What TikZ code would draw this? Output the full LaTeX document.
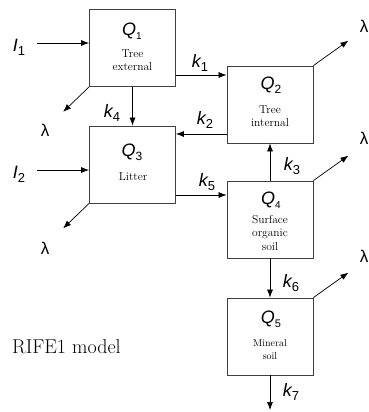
\documentclass[tikz,border=0pt]{standalone}
\usepackage{fontspec}
\newfontfamily\lblfont{Liberation Sans}
\usetikzlibrary{calc, arrows.meta}
% index set lower and upright next to an italic symbol
\newcommand{\lowidx}[2][12]{\raisebox{-0.45ex}{\upshape\fontsize{#1}{#1}\selectfont #2}}

\begin{document}
\begin{tikzpicture}[x=1pt,y=-1pt,
  comp/.style={draw=black!75, line width=0.8pt, minimum width=86pt, minimum height=77pt, inner sep=0pt},
  flow/.style={-{Latex[length=8pt,width=6pt]}, line width=0.7pt},
  sym/.style={font=\lblfont\fontsize{18}{20}\selectfont\itshape, inner sep=0pt},
  lam/.style={font=\lblfont\fontsize{17}{20}\selectfont, inner sep=0pt},
  desc/.style={font=\fontsize{11.5}{13.5}\selectfont, align=center, inner sep=0pt}]
\useasboundingbox (0,0) rectangle (368,412);

% Compartments
\node[comp] (q1) at (132.5,48) {};
\node[comp] (q2) at (270,104.5) {};
\node[comp] (q3) at (132.5,164.5) {};
\node[comp] (q4) at (270,219.5) {};
\node[comp] (q5) at (270,336.5) {};

% Names and pool labels inside the boxes
\node[sym] (q1lab) at (132,31) {Q\lowidx[10]{1}};
\node[sym] (q2lab) at (271,85) {Q\lowidx{2}};
\node[sym] (q3lab) at (132,152) {Q\lowidx{3}};
\node[sym] (q4lab) at (271,200) {Q\lowidx[10]{4}};
\node[sym] (q5lab) at (271,319) {Q\lowidx[11]{5}};
\node[desc] (q1txt) at (132.5,60) {Tree\\external};
\node[desc] (q2txt) at (270,116) {Tree\\internal};
\node[desc] (q3txt) at (133,177) {Litter};
\node[desc] (q4txt) at (270,233) {Surface\\organic\\soil};
\node[desc, font=\fontsize{10}{13}\selectfont] (q5txt) at (270,350) {Mineral\\soil};

% Inputs
\node[sym] (i1) at (19,47) {I\lowidx[13]{1}};
\node[sym] (i2) at (19,174) {I\lowidx[13]{2}};
\coordinate (in1) at (37,43);
\coordinate (in2) at (37,170);
\draw[flow] (in1) -- (in1 -| q1.west);
\draw[flow] (in2) -- (in2 -| q3.west);

% Transfers between compartments
\coordinate (k1a) at ($(q1.east)+(0,27)$);
\coordinate (k2a) at ($(q2.west)+(0,29.5)$);
\coordinate (k5a) at ($(q3.east)+(0,30.5)$);
\coordinate (out7) at (270,410);
\draw[flow] (k1a) -- (k1a -| q2.west);
\draw[flow] (k2a) -- (k2a -| q3.east);
\draw[flow] (k5a) -- (k5a -| q4.west);
\draw[flow] (q1) -- (q3);
\draw[flow] (q4) -- (q2);
\draw[flow] (q4) -- (q5);
\draw[flow] (q5) -- (out7);
\node[sym] (k1) at (200,63) {k\lowidx[13]{1}};
\node[sym] (k2) at (205,120) {k\lowidx[13]{2}};
\node[sym] (k3) at (292,166) {k\lowidx[13]{3}};
\node[sym] (k4) at (112,113) {k\lowidx[13]{4}};
\node[sym] (k5) at (207,182) {k\lowidx[13]{5}};
\node[sym] (k6) at (291,283) {k\lowidx[13]{6}};
\node[sym] (k7) at (291,392) {k\lowidx[13]{7}};

% Losses
\foreach \c in {1,3} {
  \coordinate (loss\c) at ($(q\c.south west)+(-26,25)$);
  \draw[flow] (q\c.south west) -- (loss\c);
}
\foreach \c in {2,4,5} {
  \coordinate (loss\c) at ($(q\c.north east)+(35,-25)$);
  \draw[flow] (q\c.north east) -- (loss\c);
}
\node[lam] (lam1) at (45,130) {λ};
\node[lam] (lam3) at (45,248) {λ};
\node[lam] (lam2) at (364,26) {λ};
\node[lam] (lam4) at (364,138) {λ};
\node[lam] (lam5) at (364,256) {λ};

\node[anchor=base west, inner sep=0pt, font=\fontsize{20}{24}\selectfont] (title) at (12,353) {RIFE1 model};
\end{tikzpicture}
\end{document}
